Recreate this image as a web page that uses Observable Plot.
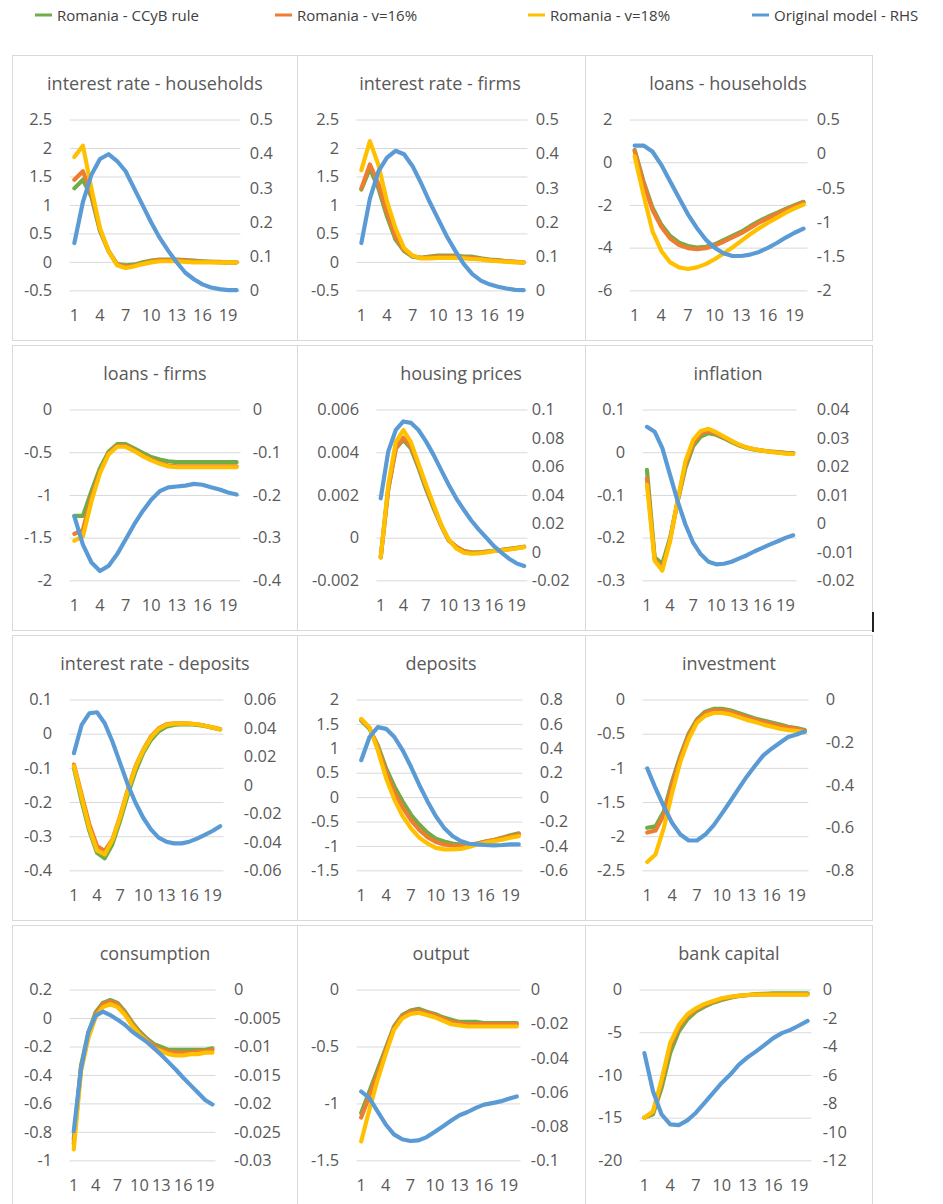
<!DOCTYPE html>
<html>
<head>
<meta charset="utf-8">
<script src="https://cdn.jsdelivr.net/npm/d3@7"></script>
<script src="https://cdn.jsdelivr.net/npm/@observablehq/plot@0.6"></script>
<style>
  body { margin: 0; background: #fff; font-family: "Open Sans", sans-serif; }
  #root { position: relative; width: 943px; height: 1204px; overflow: hidden; background: #fff; }
  .panel { position: absolute; box-sizing: border-box; border: 1px solid #d9d9d9; background: #fff; overflow: hidden; }
  .panel svg { position: absolute; left: -1px; top: -1px; }
  .ptitle { position: absolute; top: 15px; font-size: 18px; color: #595959; white-space: nowrap; transform: translateX(-50%); line-height: 24px; }
  .leg { position: absolute; top: 4px; display: flex; align-items: center; font-size: 15px; color: #404040; white-space: nowrap; }
  .leg svg { margin-right: 5px; }
  .artifact { position: absolute; left: 872px; top: 612px; width: 2px; height: 20px; background: #222; }
</style>
</head>
<body>
<div id="root"></div>
<script>
// ---------- shared data ----------
const periods = [1,2,3,4,5,6,7,8,9,10,11,12,13,14,15,16,17,18,19,20];
const xTickLabels = [1,4,7,10,13,16,19];
const seriesNames = ["Romania - CCyB rule", "Romania - v=16%", "Romania - v=18%", "Original model - RHS"];
const seriesColors = ["#70AD47", "#ED7D31", "#FFC000", "#5B9BD5"];
const panelTitles = ["interest rate - households", "interest rate - firms", "loans - households",
  "loans - firms", "housing prices", "inflation",
  "interest rate - deposits", "deposits", "investment",
  "consumption", "output", "bank capital"];

// ---------- interest rate - households ----------
const irHouseholdsCCyB = [1.3,1.45,1.15,0.55,0.2,-0.03,-0.05,-0.04,0,0.03,0.05,0.05,0.05,0.04,0.03,0.02,0.01,0.01,0,0];
const irHouseholdsV16  = [1.45,1.6,1.2,0.58,0.2,-0.04,-0.07,-0.06,-0.02,0.02,0.04,0.04,0.04,0.03,0.02,0.01,0.01,0,0,0];
const irHouseholdsV18  = [1.85,2.05,1.3,0.6,0.2,-0.05,-0.1,-0.07,-0.03,0,0.02,0.02,0.02,0.01,0,0,0,0,0,0];
const irHouseholdsOrig = [0.14,0.26,0.34,0.386,0.4,0.38,0.35,0.3,0.25,0.2,0.155,0.117,0.083,0.053,0.034,0.019,0.01,0.005,0.002,0.002];
const irHouseholdsLeftTicks  = [-0.5,0,0.5,1,1.5,2,2.5];
const irHouseholdsRightTicks = [0,0.1,0.2,0.3,0.4,0.5];

// ---------- interest rate - firms ----------
const irFirmsCCyB = [1.28,1.65,1.3,0.81,0.4,0.2,0.1,0.08,0.1,0.12,0.12,0.12,0.1,0.1,0.07,0.05,0.04,0.02,0.01,0];
const irFirmsV16  = [1.3,1.72,1.38,0.88,0.45,0.22,0.11,0.08,0.09,0.1,0.1,0.1,0.09,0.08,0.06,0.04,0.03,0.02,0.01,0];
const irFirmsV18  = [1.62,2.13,1.71,1.07,0.6,0.25,0.12,0.07,0.07,0.08,0.08,0.08,0.07,0.06,0.05,0.03,0.02,0.01,0,0];
const irFirmsOrig = [0.14,0.27,0.35,0.39,0.41,0.4,0.365,0.315,0.26,0.21,0.16,0.117,0.078,0.049,0.03,0.019,0.012,0.007,0.003,0.002];
const irFirmsLeftTicks  = [-0.5,0,0.5,1,1.5,2,2.5];
const irFirmsRightTicks = [0,0.1,0.2,0.3,0.4,0.5];

// ---------- loans - households ----------
const loansHHCCyB = [0.6,-0.87,-2.1,-2.9,-3.43,-3.74,-3.9,-3.97,-3.94,-3.82,-3.63,-3.43,-3.23,-2.97,-2.73,-2.53,-2.35,-2.16,-1.99,-1.83];
const loansHHV16  = [0.55,-0.95,-2.2,-3.0,-3.55,-3.85,-4.0,-4.05,-4.0,-3.88,-3.7,-3.5,-3.3,-3.05,-2.8,-2.6,-2.4,-2.2,-2.03,-1.87];
const loansHHV18  = [0.3,-1.5,-3.2,-4.13,-4.67,-4.9,-4.98,-4.9,-4.75,-4.52,-4.25,-3.97,-3.66,-3.35,-3.07,-2.81,-2.58,-2.34,-2.14,-1.96];
const loansHHOrig = [0.126,0.126,0.04,-0.155,-0.4,-0.64,-0.88,-1.08,-1.25,-1.37,-1.45,-1.49,-1.49,-1.47,-1.43,-1.37,-1.3,-1.22,-1.15,-1.09];
const loansHHLeftTicks  = [-6,-4,-2,0,2];
const loansHHRightTicks = [-2,-1.5,-1,-0.5,0,0.5];

// ---------- loans - firms ----------
const loansFirmsCCyB = [-1.24,-1.24,-0.95,-0.68,-0.49,-0.4,-0.4,-0.45,-0.5,-0.55,-0.58,-0.6,-0.61,-0.61,-0.61,-0.61,-0.61,-0.61,-0.61,-0.61];
const loansFirmsV16  = [-1.45,-1.4,-1.02,-0.72,-0.51,-0.42,-0.42,-0.47,-0.53,-0.58,-0.62,-0.65,-0.66,-0.66,-0.66,-0.66,-0.66,-0.66,-0.66,-0.66];
const loansFirmsV18  = [-1.53,-1.48,-1.07,-0.74,-0.52,-0.43,-0.43,-0.48,-0.54,-0.59,-0.63,-0.66,-0.67,-0.67,-0.67,-0.67,-0.67,-0.67,-0.67,-0.67];
const loansFirmsOrig = [-0.249,-0.315,-0.357,-0.377,-0.365,-0.338,-0.303,-0.268,-0.237,-0.21,-0.19,-0.181,-0.179,-0.177,-0.173,-0.175,-0.181,-0.186,-0.193,-0.198];
const loansFirmsLeftTicks  = [-2,-1.5,-1,-0.5,0];
const loansFirmsRightTicks = [-0.4,-0.3,-0.2,-0.1,0];

// ---------- housing prices ----------
const housingCCyB = [-0.0009,0.0023,0.0042,0.0046,0.0042,0.0033,0.0023,0.0014,0.0006,-0.0001,-0.0004,-0.0006,-0.00066,-0.00066,-0.00063,-0.00059,-0.00055,-0.0005,-0.00045,-0.0004];
const housingV16  = [-0.0009,0.0023,0.0042,0.0047,0.0043,0.0034,0.0024,0.0015,0.0006,-0.0001,-0.0004,-0.0006,-0.0007,-0.00068,-0.00064,-0.0006,-0.00056,-0.00052,-0.00047,-0.00041];
const housingV18  = [-0.0009,0.0025,0.0045,0.00506,0.0045,0.0035,0.0025,0.00157,0.00064,-0.00006,-0.00048,-0.00068,-0.00073,-0.00071,-0.00067,-0.0006,-0.00057,-0.00053,-0.00048,-0.00042];
const housingOrig = [0.038,0.071,0.086,0.092,0.091,0.086,0.078,0.0685,0.058,0.0475,0.038,0.03,0.0224,0.016,0.0103,0.0044,-0.0002,-0.0044,-0.0077,-0.0096];
const housingLeftTicks  = [-0.002,0,0.002,0.004,0.006];
const housingRightTicks = [-0.02,0,0.02,0.04,0.06,0.08,0.1];

// ---------- inflation ----------
const inflationCCyB = [-0.04,-0.245,-0.26,-0.2,-0.113,-0.036,0.015,0.038,0.046,0.042,0.034,0.025,0.017,0.011,0.007,0.005,0.003,0.0015,0,-0.001];
const inflationV16  = [-0.06,-0.25,-0.27,-0.205,-0.112,-0.028,0.022,0.045,0.051,0.045,0.036,0.027,0.018,0.012,0.008,0.005,0.003,0.001,-0.001,-0.002];
const inflationV18  = [-0.075,-0.253,-0.276,-0.207,-0.11,-0.02,0.03,0.051,0.056,0.048,0.038,0.028,0.019,0.012,0.008,0.005,0.002,0,-0.002,-0.003];
const inflationOrig = [0.0341,0.0324,0.0266,0.0172,0.0079,-0.0002,-0.0066,-0.0107,-0.0133,-0.0142,-0.014,-0.0133,-0.0121,-0.011,-0.0096,-0.0084,-0.0072,-0.0061,-0.0049,-0.004];
const inflationLeftTicks  = [-0.3,-0.2,-0.1,0,0.1];
const inflationRightTicks = [-0.02,-0.01,0,0.01,0.02,0.03,0.04];

// ---------- interest rate - deposits ----------
const irDepositsCCyB = [-0.099,-0.196,-0.283,-0.347,-0.363,-0.322,-0.254,-0.177,-0.109,-0.055,-0.017,0.008,0.022,0.027,0.029,0.029,0.027,0.024,0.019,0.014];
const irDepositsV16  = [-0.089,-0.177,-0.264,-0.327,-0.342,-0.308,-0.24,-0.162,-0.094,-0.046,-0.007,0.017,0.029,0.032,0.032,0.031,0.029,0.025,0.02,0.015];
const irDepositsV18  = [-0.093,-0.185,-0.275,-0.34,-0.352,-0.31,-0.242,-0.165,-0.097,-0.048,-0.01,0.015,0.027,0.031,0.031,0.031,0.029,0.025,0.02,0.014];
const irDepositsOrig = [0.0227,0.0425,0.0507,0.0514,0.0437,0.0309,0.0157,0.0006,-0.0122,-0.0227,-0.0309,-0.0367,-0.0395,-0.0407,-0.0407,-0.0395,-0.0374,-0.0348,-0.032,-0.0286];
const irDepositsLeftTicks  = [-0.4,-0.3,-0.2,-0.1,0,0.1];
const irDepositsRightTicks = [-0.06,-0.04,-0.02,0,0.02,0.04,0.06];

// ---------- deposits ----------
const depositsCCyB = [1.58,1.41,1.07,0.6,0.23,-0.08,-0.35,-0.55,-0.72,-0.84,-0.9,-0.94,-0.96,-0.96,-0.94,-0.9,-0.87,-0.82,-0.77,-0.73];
const depositsV16  = [1.6,1.43,1.03,0.52,0.12,-0.2,-0.46,-0.66,-0.81,-0.91,-0.96,-0.98,-0.99,-0.97,-0.94,-0.9,-0.87,-0.83,-0.79,-0.75];
const depositsV18  = [1.61,1.44,0.97,0.4,-0.04,-0.38,-0.63,-0.82,-0.94,-1.03,-1.06,-1.06,-1.05,-1.01,-0.96,-0.92,-0.89,-0.86,-0.82,-0.79];
const depositsOrig = [0.307,0.497,0.578,0.564,0.497,0.388,0.253,0.104,-0.031,-0.153,-0.248,-0.315,-0.356,-0.378,-0.383,-0.388,-0.391,-0.388,-0.383,-0.383];
const depositsLeftTicks  = [-1.5,-1,-0.5,0,0.5,1,1.5,2];
const depositsRightTicks = [-0.6,-0.4,-0.2,0,0.2,0.4,0.6,0.8];

// ---------- investment ----------
const investmentCCyB = [-1.87,-1.85,-1.63,-1.19,-0.81,-0.49,-0.28,-0.17,-0.13,-0.13,-0.15,-0.19,-0.23,-0.27,-0.3,-0.33,-0.36,-0.39,-0.41,-0.44];
const investmentV16  = [-1.94,-1.91,-1.68,-1.23,-0.84,-0.51,-0.3,-0.19,-0.15,-0.15,-0.17,-0.21,-0.25,-0.29,-0.32,-0.35,-0.38,-0.4,-0.42,-0.45];
const investmentV18  = [-2.37,-2.26,-1.87,-1.36,-0.9,-0.57,-0.33,-0.23,-0.19,-0.19,-0.21,-0.25,-0.29,-0.32,-0.36,-0.39,-0.42,-0.44,-0.45,-0.47];
const investmentOrig = [-0.32,-0.413,-0.498,-0.576,-0.63,-0.658,-0.658,-0.63,-0.587,-0.532,-0.475,-0.416,-0.359,-0.308,-0.259,-0.228,-0.2,-0.173,-0.161,-0.147];
const investmentLeftTicks  = [-2.5,-2,-1.5,-1,-0.5,0];
const investmentRightTicks = [-0.8,-0.6,-0.4,-0.2,0];

// ---------- consumption ----------
const consumptionCCyB = [-0.85,-0.33,-0.1,0.044,0.11,0.13,0.11,0.05,-0.026,-0.09,-0.14,-0.18,-0.2,-0.22,-0.22,-0.22,-0.22,-0.22,-0.22,-0.21];
const consumptionV16  = [-0.88,-0.35,-0.12,0.03,0.1,0.12,0.1,0.04,-0.035,-0.1,-0.15,-0.19,-0.22,-0.23,-0.24,-0.24,-0.24,-0.23,-0.23,-0.22];
const consumptionV18  = [-0.92,-0.37,-0.14,0.01,0.08,0.1,0.08,0.026,-0.05,-0.11,-0.16,-0.21,-0.23,-0.25,-0.26,-0.26,-0.25,-0.25,-0.24,-0.24];
const consumptionOrig = [-0.0248,-0.0138,-0.0074,-0.0045,-0.0038,-0.0044,-0.0052,-0.0061,-0.0073,-0.0082,-0.0091,-0.0102,-0.0114,-0.0127,-0.014,-0.0154,-0.0167,-0.018,-0.0193,-0.0201];
const consumptionLeftTicks  = [-1,-0.8,-0.6,-0.4,-0.2,0,0.2];
const consumptionRightTicks = [-0.03,-0.025,-0.02,-0.015,-0.01,-0.005,0];

// ---------- output ----------
const outputCCyB = [-1.08,-0.89,-0.7,-0.51,-0.32,-0.22,-0.18,-0.165,-0.19,-0.21,-0.24,-0.26,-0.28,-0.28,-0.28,-0.29,-0.29,-0.29,-0.29,-0.29];
const outputV16  = [-1.12,-0.93,-0.73,-0.53,-0.33,-0.23,-0.19,-0.18,-0.2,-0.22,-0.25,-0.28,-0.29,-0.3,-0.3,-0.3,-0.3,-0.3,-0.3,-0.3];
const outputV18  = [-1.33,-1.05,-0.79,-0.56,-0.35,-0.25,-0.21,-0.2,-0.22,-0.24,-0.27,-0.3,-0.31,-0.32,-0.32,-0.32,-0.32,-0.32,-0.32,-0.32];
const outputOrig = [-0.0594,-0.0633,-0.071,-0.0787,-0.0845,-0.0874,-0.0884,-0.088,-0.0861,-0.083,-0.0797,-0.0764,-0.0733,-0.0714,-0.069,-0.0671,-0.0662,-0.0652,-0.0636,-0.0623];
const outputLeftTicks  = [-1.5,-1,-0.5,0];
const outputRightTicks = [-0.1,-0.08,-0.06,-0.04,-0.02,0];

// ---------- bank capital ----------
const bankCapCCyB = [-14.95,-14.56,-11.46,-7.38,-4.85,-3.42,-2.52,-1.94,-1.48,-1.17,-0.89,-0.7,-0.58,-0.47,-0.43,-0.39,-0.39,-0.39,-0.39,-0.39];
const bankCapV16  = [-14.95,-14.3,-10.8,-6.6,-4.4,-3.05,-2.28,-1.75,-1.36,-1.05,-0.83,-0.69,-0.6,-0.55,-0.52,-0.5,-0.5,-0.5,-0.5,-0.5];
const bankCapV18  = [-14.95,-14.2,-10.5,-6.2,-4.1,-2.83,-2.14,-1.63,-1.28,-0.97,-0.78,-0.66,-0.58,-0.54,-0.54,-0.54,-0.54,-0.54,-0.54,-0.54];
const bankCapOrig = [-4.43,-7.11,-8.74,-9.44,-9.49,-9.16,-8.62,-7.93,-7.23,-6.53,-5.94,-5.24,-4.73,-4.31,-3.85,-3.38,-3.03,-2.8,-2.49,-2.17];
const bankCapLeftTicks  = [-20,-15,-10,-5,0];
const bankCapRightTicks = [-12,-10,-8,-6,-4,-2,0];

// ---------- assemble panels ----------
const panelSeries = [
  [irHouseholdsCCyB, irHouseholdsV16, irHouseholdsV18, irHouseholdsOrig, irHouseholdsLeftTicks, irHouseholdsRightTicks],
  [irFirmsCCyB, irFirmsV16, irFirmsV18, irFirmsOrig, irFirmsLeftTicks, irFirmsRightTicks],
  [loansHHCCyB, loansHHV16, loansHHV18, loansHHOrig, loansHHLeftTicks, loansHHRightTicks],
  [loansFirmsCCyB, loansFirmsV16, loansFirmsV18, loansFirmsOrig, loansFirmsLeftTicks, loansFirmsRightTicks],
  [housingCCyB, housingV16, housingV18, housingOrig, housingLeftTicks, housingRightTicks],
  [inflationCCyB, inflationV16, inflationV18, inflationOrig, inflationLeftTicks, inflationRightTicks],
  [irDepositsCCyB, irDepositsV16, irDepositsV18, irDepositsOrig, irDepositsLeftTicks, irDepositsRightTicks],
  [depositsCCyB, depositsV16, depositsV18, depositsOrig, depositsLeftTicks, depositsRightTicks],
  [investmentCCyB, investmentV16, investmentV18, investmentOrig, investmentLeftTicks, investmentRightTicks],
  [consumptionCCyB, consumptionV16, consumptionV18, consumptionOrig, consumptionLeftTicks, consumptionRightTicks],
  [outputCCyB, outputV16, outputV18, outputOrig, outputLeftTicks, outputRightTicks],
  [bankCapCCyB, bankCapV16, bankCapV18, bankCapOrig, bankCapLeftTicks, bankCapRightTicks]
];

// layout (pixels): plot-area left/right edges inside each panel, right label gap, title centre
const layout = [
  {l: 58, r: 230, rp: 9,  tc: 142},
  {l: 60, r: 232, rp: 8,  tc: 142},
  {l: 45, r: 224, rp: 9,  tc: 142},
  {l: 58, r: 230, rp: 12, tc: 142},
  {l: 80, r: 232, rp: 4,  tc: 163},
  {l: 58, r: 213, rp: 20, tc: 142},
  {l: 58, r: 213, rp: 20, tc: 142},
  {l: 60, r: 227, rp: 17, tc: 143},
  {l: 58, r: 225, rp: 17, tc: 143},
  {l: 58, r: 205, rp: 18, tc: 142},
  {l: 60, r: 225, rp: 10, tc: 143},
  {l: 55, r: 228, rp: 11, tc: 143}
];
const colX = [12, 297, 585];
const colW = [286, 289, 288];
const rowY = [55, 345, 635, 925];
const PH = 286;
const plotTop = 65, plotBottom = 237;
const FONT = "'Open Sans', sans-serif";
const fmt = d => String(d);

const root = document.getElementById("root");

// legend
const legendX = [35, 275, 528, 752];
seriesNames.forEach((name, i) => {
  const item = document.createElement("div");
  item.className = "leg";
  item.style.left = legendX[i] + "px";
  item.innerHTML = `<svg width="17" height="22"><line x1="0" x2="17" y1="11" y2="11" stroke="${seriesColors[i]}" stroke-width="3"/></svg><span>${name}</span>`;
  root.appendChild(item);
});

panelSeries.forEach((ps, i) => {
  const [ccyb, v16, v18, orig, lt, rt] = ps;
  const L = layout[i];
  const col = i % 3, row = Math.floor(i / 3);
  const W = colW[col];
  const div = document.createElement("div");
  div.className = "panel";
  div.style.left = colX[col] + "px";
  div.style.top = rowY[row] + "px";
  div.style.width = W + "px";
  div.style.height = PH + "px";
  root.appendChild(div);

  const rows = arr => periods.map((t, k) => ({t, v: arr[k]}));
  const common = {
    width: W, height: PH,
    marginLeft: L.l, marginRight: W - L.r, marginTop: plotTop, marginBottom: PH - plotBottom,
    style: {fontFamily: FONT, fontSize: "16.5px", color: "#595959", background: "transparent", overflow: "visible"}
  };
  const lineOpts = c => ({x: "t", y: "v", stroke: c, strokeWidth: 4.2, strokeLinejoin: "round", strokeLinecap: "round"});

  const left = Plot.plot({
    ...common,
    x: {type: "linear", domain: [0.5, 20.5]},
    y: {domain: d3.extent(lt)},
    marks: [
      Plot.gridY(lt, {stroke: "#d9d9d9", strokeOpacity: 1, strokeWidth: 1}),
      Plot.axisX(xTickLabels, {tickSize: 0, tickPadding: 19, tickFormat: fmt, label: null}),
      Plot.axisY(lt, {anchor: "left", tickSize: 0, tickPadding: 18, tickFormat: fmt, label: null}),
      Plot.line(rows(ccyb), lineOpts(seriesColors[0])),
      Plot.line(rows(v16), lineOpts(seriesColors[1])),
      Plot.line(rows(v18), lineOpts(seriesColors[2]))
    ]
  });
  const right = Plot.plot({
    ...common,
    x: {type: "linear", domain: [0.5, 20.5], axis: null},
    y: {domain: d3.extent(rt)},
    marks: [
      Plot.axisY(rt, {anchor: "right", tickSize: 0, tickPadding: L.rp, tickFormat: fmt, label: null}),
      Plot.line(rows(orig), lineOpts(seriesColors[3]))
    ]
  });
  div.appendChild(left);
  div.appendChild(right);

  const t = document.createElement("div");
  t.className = "ptitle";
  t.style.left = L.tc + "px";
  t.textContent = panelTitles[i];
  div.appendChild(t);
});

const art = document.createElement("div");
art.className = "artifact";
root.appendChild(art);
</script>
</body>
</html>
